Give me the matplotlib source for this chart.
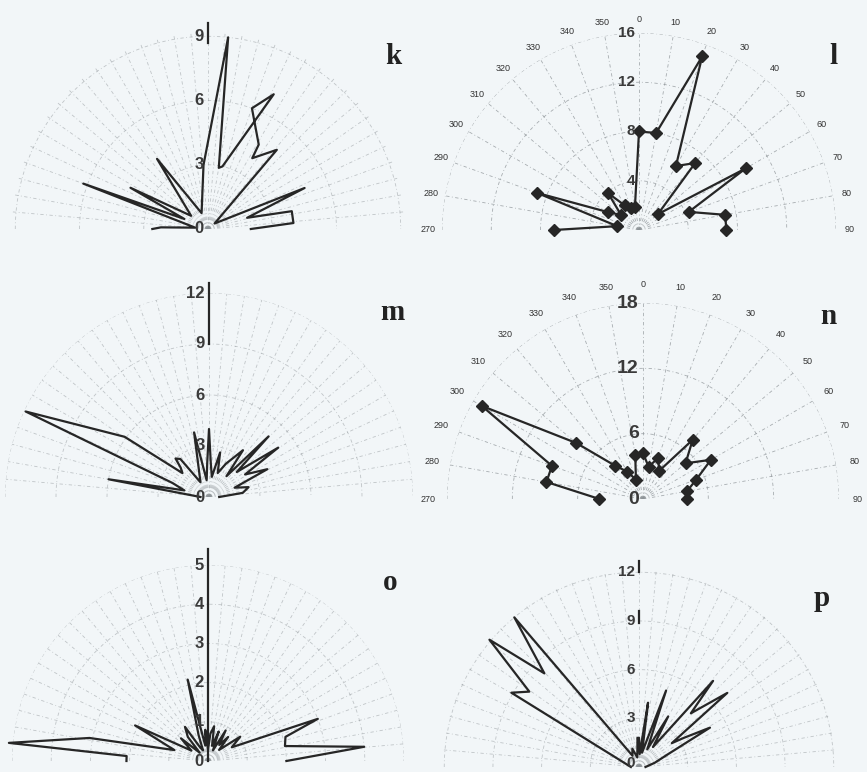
import numpy as np
import matplotlib.pyplot as plt

plt.rcParams['font.family'] = ['Liberation Sans', 'DejaVu Sans']

# k: direction (deg from north, clockwise) and frequency
k_theta = [-90, -88, -84, -70, -67, -62, -52, -36, -22, -4, 6, 10, 13, 26, 20, 31, 32, 41, 50, 67, 74, 78, 86, 90]
k_r = [2.6, 2.2, 0.6, 6.2, 1.2, 4.1, 1.0, 4.05, 0.8, 3.0, 9.0, 2.9, 3.0, 7.0, 6.0, 4.6, 3.9, 4.9, 0.4, 4.9, 1.9, 4.0, 4.0, 2.0]
k_rings = [3, 6, 9]

# l
l_theta = [-90, -80, -70, -60, -50, -40, -30, -20, -10, 0, 10, 20, 30, 40, 50, 60, 70, 80, 90]
l_r = [6.9, 1.8, 8.8, 2.9, 1.9, 3.9, 2.3, 1.9, 1.9, 8.0, 8.0, 15.0, 6.0, 7.1, 2.0, 10.0, 4.3, 7.1, 7.1]
l_rings = [4, 8, 12, 16]

# m
m_theta = [-90, -80, -75, -69, -65, -54.5, -48, -44, -41, -37, -30, -13, -8, -3, 0, 3, 8, 14, 20, 27, 36, 40,
           44.5, 48, 54.5, 58, 64.5, 70, 76, 83, 90]
m_r = [0.5, 6.0, 1.5, 2.3, 11.9, 6.1, 2.1, 2.4, 3.0, 2.8, 1.0, 3.9, 1.0, 2.0, 4.0, 2.0, 1.2, 2.7, 1.5, 2.2, 3.4, 1.6,
       5.0, 2.2, 5.0, 2.5, 3.8, 1.6, 2.4, 2.0, 0.6]
m_rings = [3, 6, 9, 12]

# n
n_theta = [-90, -80, -70, -60, -50, -40, -30, -20, -10, 0, 10, 20, 30, 40, 50, 60, 70, 80, 90]
n_r = [4.0, 9.0, 8.9, 17.1, 8.0, 4.0, 2.9, 1.9, 4.1, 4.2, 3.0, 4.0, 3.0, 7.1, 5.1, 7.2, 5.2, 4.1, 4.0]
n_rings = [6, 12, 18]

# o
o_theta = [-90, -86.5, -84.8, -79, -72, -64, -58, -50, -45, -40, -34, -30, -25, -20, -14, -10, -5, 0, 5, 10,
           15, 20, 25, 30, 35, 40, 45, 53, 60, 69, 72.7, 79, 84.8, 90]
o_r = [2.08, 2.08, 5.1, 3.08, 0.9, 2.07, 0.5, 0.9, 0.3, 0.8, 1.05, 0.4, 0.3, 0.7, 2.14, 0.4, 0.8, 0.3, 0.7, 0.9,
       0.4, 0.8, 0.3, 0.9, 0.5, 0.8, 0.4, 1.03, 0.7, 3.0, 2.07, 2.0, 4.0, 2.0]
o_rings = [1, 2, 3, 4, 5]

# p
p_theta = [-90, -75, -59.8, -55.5, -49.6, -45.3, -39.8, -30, -20, -10, -3, 0, 3, 8, 12, 19.5, 25, 30, 35,
           40.7, 44, 50, 54, 57, 61, 66, 75, 90]
p_r = [0.5, 0.9, 9.1, 8.2, 12.1, 8.2, 12.0, 0.8, 1.2, 0.6, 1.8, 1.8, 0.8, 4.0, 0.9, 5.0, 1.2, 3.6, 1.5,
       7.0, 4.6, 7.1, 2.5, 3.3, 5.0, 2.0, 1.0, 0.4]
p_rings = [3, 6, 9, 12]

W, H = 867, 772
BG = '#f2f6f8'
INK = '#262626'
GRID = '#8d9397'
DASH = (0, (4, 3, 1, 3))

fig = plt.figure(figsize=(W / 100, H / 100), dpi=100)
fig.patch.set_facecolor(BG)


def half_rose(cx, cy, rad, rmax, rings, step, theta, r, letter, letter_xy,
              label_size=12, markers=False, dial=None, axis_span=None, zero_lift=0,
              zero_label=True):
    # the upper half-disc sits in the middle of a square box
    box = 2 * rad
    ax = fig.add_axes([(cx - rad) / W, (H - cy - rad / 2) / H, box / W, box / H],
                      projection='polar')
    ax.set_theta_zero_location('N')
    ax.set_theta_direction(-1)
    ax.set_thetamin(-90)
    ax.set_thetamax(90)
    ax.set_rlim(0, rmax)
    ax.axis('off')

    # hand-drawn grid: dash-dot rings and spokes
    alpha = 0.75 if dial else 0.5
    arc = np.deg2rad(np.linspace(-90, 90, 181))
    for v in rings:
        ax.plot(arc, np.full_like(arc, v), color=GRID, lw=0.6, ls=DASH, alpha=alpha)
    spokes = np.arange(-90, 91, step)
    for a in spokes:
        ax.plot(np.deg2rad([a, a]), [0, rmax], color=GRID, lw=0.6, ls=DASH, alpha=alpha)
    if dial:
        for a in spokes:
            ax.text(np.deg2rad(a), rmax * dial, str(int(a) % 360), ha='center', va='center',
                    fontsize=6.5, color='#333333')

    if axis_span:
        for r0, r1 in axis_span:
            ax.plot([0, 0], [r0, r1], color=INK, lw=1.6, clip_on=False)

    ax.plot(np.deg2rad(theta), r, color=INK, lw=1.6, clip_on=False,
            marker='D' if markers else None, ms=6, mfc=INK, mec=INK)

    labels = ([0] if zero_label else []) + list(rings)
    for v in labels:
        ax.annotate(str(v), xy=(0, v), xytext=(-3, zero_lift if v == 0 else 0),
                    textcoords='offset points', ha='right', va='center',
                    fontsize=label_size, fontweight='bold', color='#3a3a3a',
                    annotation_clip=False)

    fig.text(letter_xy[0] / W, 1 - letter_xy[1] / H, letter, ha='center', va='center',
             fontsize=21, fontweight='bold', family='Liberation Serif', color='#222222')
    return ax


half_rose(208, 229, 197, 9.2, k_rings, 5, k_theta, k_r, 'k', (393, 57),
          axis_span=[(8.7, 9.6)])
half_rose(639, 230, 197, 16, l_rings, 10, l_theta, l_r, 'l', (833, 56),
          label_size=11, markers=True, dial=1.07, zero_label=False)
half_rose(209, 497, 204, 12, m_rings, 5, m_theta, m_r, 'm', (392, 313),
          axis_span=[(9.0, 12.6)])
half_rose(643, 499, 196, 18, n_rings, 10, n_theta, n_r, 'n', (828, 317),
          label_size=14, markers=True, dial=1.095)
half_rose(208, 761, 196, 5, o_rings, 5, o_theta, o_r, 'o', (390, 583),
          axis_span=[(0, 5.4)])
half_rose(639, 767, 198, 12.2, p_rings, 5, p_theta, p_r, 'p', (822, 598),
          label_size=11, axis_span=[(12.0, 12.7), (8.9, 9.6)], zero_lift=3)

fig.savefig('out.png', dpi=100, facecolor=BG)
